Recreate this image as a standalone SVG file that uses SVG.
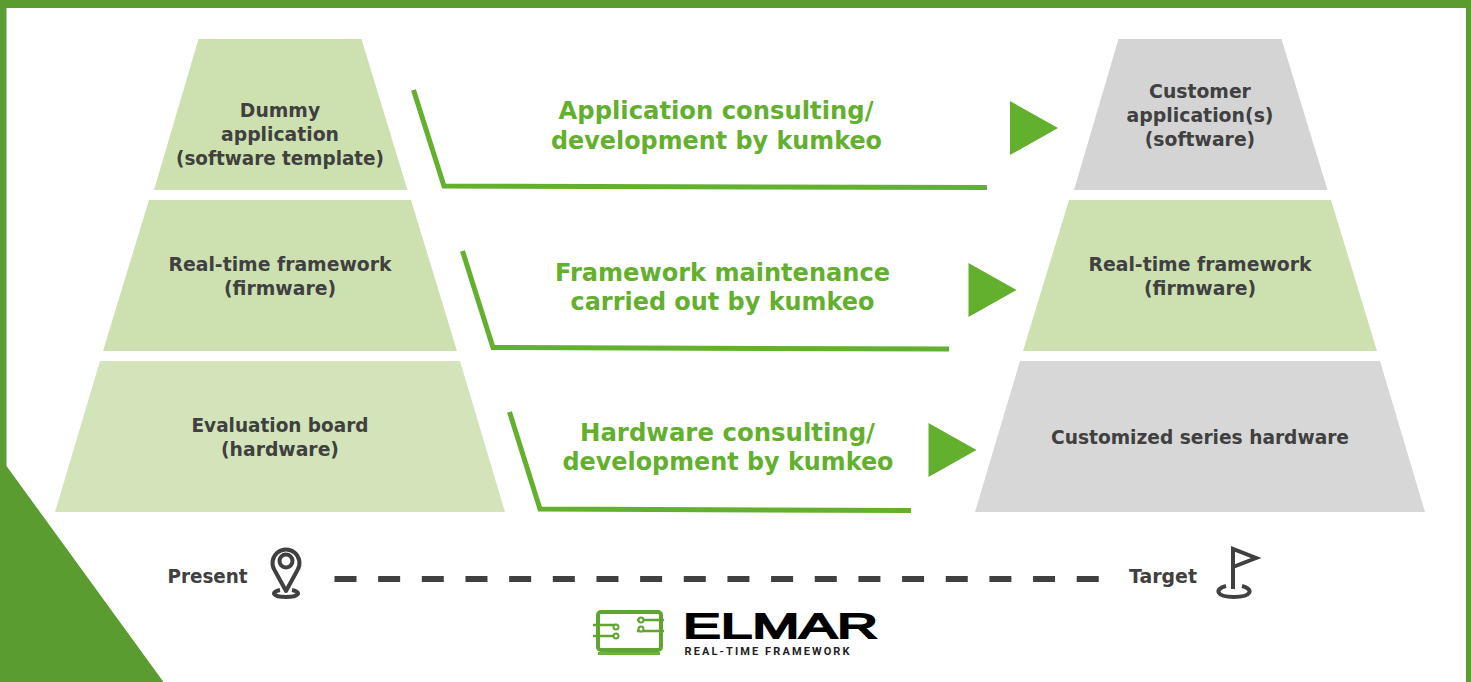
<svg xmlns="http://www.w3.org/2000/svg" width="1471" height="682" viewBox="0 0 1471 682">
<style>
text{font-family:"DejaVu Sans",Verdana,sans-serif;font-weight:700;text-anchor:middle}
.n{font-size:18.800px;fill:#404040}
.g{font-size:24px;fill:#63b02f}
.l{fill:none;stroke:#63b02f;stroke-width:5}
.a{fill:#63b02f}
.ic{fill:none;stroke:#404040;stroke-width:4}
</style>
<rect width="1471" height="682" fill="#fff"/>
<path id="frame" fill="#5a9c30" d="M0 0H1471V682H1466V8H6.500V466L163.500 682H0Z"/>
<g id="left-top"><polygon points="198.500,39 361.500,39 407.500,190 154,190" fill="#cde1b0"/><text class="n" x="280" y="117">Dummy</text><text class="n" x="280" y="141">application</text><text class="n" x="280" y="165" textLength="208" lengthAdjust="spacingAndGlyphs">(software template)</text></g>
<g id="left-mid"><polygon points="149,200 411,200 457,351 103,351" fill="#cde1b0"/><text class="n" x="280" y="271" textLength="223" lengthAdjust="spacingAndGlyphs">Real-time framework</text><text class="n" x="280" y="295">(firmware)</text></g>
<g id="left-bottom"><polygon points="100,361 460,361 505,512 55,512" fill="#d3e4ba"/><text class="n" x="280" y="432" textLength="177" lengthAdjust="spacingAndGlyphs">Evaluation board</text><text class="n" x="280" y="456">(hardware)</text></g>
<g id="right-top"><polygon points="1118.500,39 1281.500,39 1327.500,190 1074,190" fill="#d4d4d4"/><text class="n" x="1200" y="98">Customer</text><text class="n" x="1200" y="122" textLength="147" lengthAdjust="spacingAndGlyphs">application(s)</text><text class="n" x="1200" y="146">(software)</text></g>
<g id="right-mid"><polygon points="1069,200 1331,200 1377,351 1023,351" fill="#cde1b0"/><text class="n" x="1200" y="271" textLength="223" lengthAdjust="spacingAndGlyphs">Real-time framework</text><text class="n" x="1200" y="295">(firmware)</text></g>
<g id="right-bottom"><polygon points="1020,361 1380,361 1425,512 975,512" fill="#d7d7d7"/><text class="n" x="1200" y="444" textLength="298" lengthAdjust="spacingAndGlyphs">Customized series hardware</text></g>
<g id="connectors">
<polyline class="l" points="413.500,90 444,186 987,187.500"/>
<polygon class="a" points="1010,101 1058,128 1010,155"/>
<polyline class="l" points="462.500,251 493,347.500 949,349"/>
<polygon class="a" points="968.500,263 1016.500,290 968.500,317"/>
<polyline class="l" points="509.500,412 540,509 911,510.500"/>
<polygon class="a" points="928.500,423 976.500,450 928.500,477"/>
<line x1="334.500" y1="579" x2="1099" y2="579" stroke="#404040" stroke-width="6" stroke-dasharray="22 21.660"/>
</g>
<g id="label-app"><text class="g" x="716" y="119" textLength="315" lengthAdjust="spacingAndGlyphs">Application consulting/</text><text class="g" x="716.500" y="149" textLength="331" lengthAdjust="spacingAndGlyphs">development by kumkeo</text></g>
<g id="label-fw"><text class="g" x="722.500" y="281" textLength="335" lengthAdjust="spacingAndGlyphs">Framework maintenance</text><text class="g" x="722.500" y="310" textLength="304" lengthAdjust="spacingAndGlyphs">carried out by kumkeo</text></g>
<g id="label-hw"><text class="g" x="727.500" y="441" textLength="295" lengthAdjust="spacingAndGlyphs">Hardware consulting/</text><text class="g" x="728" y="470" textLength="331" lengthAdjust="spacingAndGlyphs">development by kumkeo</text></g>
<g id="present"><text class="n" x="207.500" y="583" textLength="80" lengthAdjust="spacingAndGlyphs">Present</text>
<path class="ic" d="M286 591L274.500 570A13.500 13.500 0 1 1 297.500 570Z" stroke-linejoin="round"/><circle class="ic" cx="286" cy="561" r="6.500"/><path class="ic" d="M280 590C270 592 273 597 286 597C299 597 302 592 292 590"/></g>
<g id="target"><text class="n" x="1163" y="583" textLength="68" lengthAdjust="spacingAndGlyphs">Target</text>
<path class="ic" d="M1233 589V549L1256 558L1233 567"/><path class="ic" d="M1226 586C1214 589 1216 597 1234 597C1252 597 1254 589 1242 586"/></g>
<g id="logo">
<rect x="598" y="612" width="63" height="38" rx="3" fill="none" stroke="#5fa52f" stroke-width="4"/>
<rect x="598" y="652" width="62" height="3" fill="#6ab437"/>
<path d="M593 625H616M593 636H616M637 620H664M637 631H664" fill="none" stroke="#5fa52f" stroke-width="2.500"/>
<g fill="#fff" stroke="#5fa52f" stroke-width="2"><circle cx="616" cy="627" r="2.500"/><circle cx="616" cy="636" r="2.500"/><circle cx="641" cy="620" r="2.500"/><circle cx="641" cy="629" r="2.500"/></g>
<text x="780.500" y="637.500" style="font-family:'Liberation Sans',sans-serif;font-size:34.500px;fill:#000;font-weight:400;stroke:#000;stroke-width:1.800" textLength="195" lengthAdjust="spacingAndGlyphs">ELMAR</text>
<text x="768" y="655" style="font-family:'Roboto',sans-serif;font-size:11px;fill:#222;letter-spacing:2px" textLength="167">REAL-TIME FRAMEWORK</text>
</g>
</svg>
